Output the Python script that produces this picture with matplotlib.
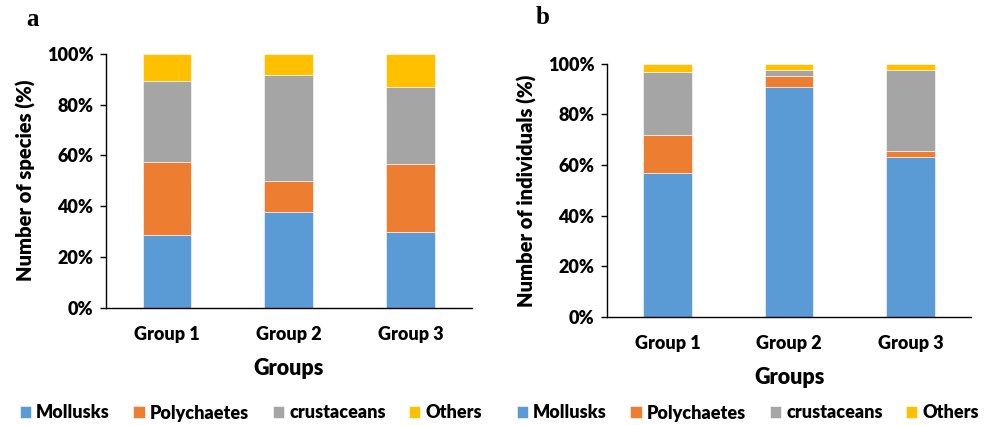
import numpy as np
import matplotlib
matplotlib.use("Agg")
import matplotlib.pyplot as plt
from matplotlib.ticker import PercentFormatter

plt.rcParams['font.family'] = ['Lato', 'DejaVu Sans']
plt.rcParams['font.weight'] = 'heavy'

groups = ['Group 1', 'Group 2', 'Group 3']
taxa = ['Mollusks', 'Polychaetes', 'crustaceans', 'Others']
colors = ['#5B9BD5', '#ED7D31', '#A5A5A5', '#FFC000']

# panel a: share of species (%)
species = {
    'Mollusks':    [28.6, 37.5, 30.0],
    'Polychaetes': [28.6, 12.5, 26.7],
    'crustaceans': [32.1, 41.7, 30.0],
    'Others':      [10.7, 8.3, 13.3],
}
# panel b: share of individuals (%)
individuals = {
    'Mollusks':    [56.7, 90.7, 63.2],
    'Polychaetes': [15.3, 4.6, 2.3],
    'crustaceans': [24.8, 2.2, 31.9],
    'Others':      [3.2, 2.5, 2.6],
}

W, H = 986, 425
fig = plt.figure(figsize=(W / 100, H / 100), dpi=100)


def px_axes(left, top, right, bottom):
    return fig.add_axes([left / W, 1 - bottom / H, (right - left) / W, (bottom - top) / H])


def draw(ax, data, ylabel, letter, lx, ly, leg_x):
    x = np.arange(len(groups))
    bottom = np.zeros(len(groups))
    handles = []
    for name, col in zip(taxa, colors):
        vals = np.array(data[name])
        b = ax.bar(x, vals, 0.4, bottom=bottom, color=col, edgecolor='white',
                   linewidth=0.4, label=name)
        handles.append(b)
        bottom += vals
    ax.set_xlim(-0.5, 2.5)
    ax.set_ylim(0, 100)
    ax.set_yticks([0, 20, 40, 60, 80, 100])
    ax.yaxis.set_major_formatter(PercentFormatter(decimals=0))
    ax.set_xticks(x)
    ax.set_xticklabels(groups)
    for s in ['top', 'right']:
        ax.spines[s].set_visible(False)
    for s in ['left', 'bottom']:
        ax.spines[s].set_linewidth(1.0)
    ax.tick_params(axis='y', length=4, width=1.0, pad=5, labelsize=13)
    ax.tick_params(axis='x', length=0, pad=13, labelsize=13)
    ax.set_xlabel('Groups', fontsize=15.5, fontweight='heavy', labelpad=11)
    ax.set_ylabel(ylabel, fontsize=14.5, fontweight='heavy', labelpad=8)
    fig.text(lx / W, 1 - ly / H, letter, family='Liberation Serif', fontweight='bold',
             fontsize=18, ha='left', va='center')
    fig.legend(handles, taxa, loc='center', bbox_to_anchor=(leg_x / W, 1 - 413 / H),
               ncol=4, frameon=False, fontsize=13, handlelength=0.62, handleheight=0.62,
               handletextpad=0.3, columnspacing=1.3, borderaxespad=0)


ax1 = px_axes(106, 53.7, 471.7, 307.7)
draw(ax1, species, 'Number of species (%)', 'a', 26, 20, 251)

ax2 = px_axes(607, 63.7, 971.3, 317)
draw(ax2, individuals, 'Number of individuals (%)', 'b', 536, 18, 748)

fig.savefig('out.png', dpi=100)
